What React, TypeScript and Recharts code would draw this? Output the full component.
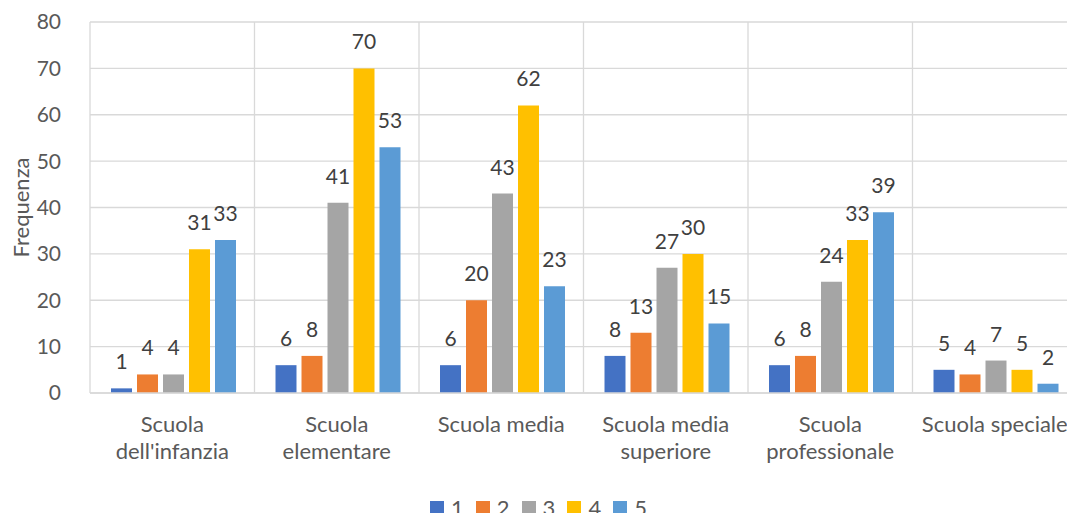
import {
  BarChart,
  Bar,
  XAxis,
  YAxis,
  CartesianGrid,
  Legend,
  LabelList,
} from "recharts";

const categories = [
  "Scuola\ndell'infanzia",
  "Scuola\nelementare",
  "Scuola media",
  "Scuola media\nsuperiore",
  "Scuola\nprofessionale",
  "Scuola speciale",
];

const series1 = [1, 6, 6, 8, 6, 5];
const series2 = [4, 8, 20, 13, 8, 4];
const series3 = [4, 41, 43, 27, 24, 7];
const series4 = [31, 70, 62, 30, 33, 5];
const series5 = [33, 53, 23, 15, 39, 2];

const seriesNames = ["1", "2", "3", "4", "5"];
const seriesColors = ["#4472C4", "#ED7D31", "#A5A5A5", "#FFC000", "#5B9BD5"];
const yTicks = [0, 10, 20, 30, 40, 50, 60, 70, 80];

const data = categories.map((name, i) => ({
  name,
  s1: series1[i],
  s2: series2[i],
  s3: series3[i],
  s4: series4[i],
  s5: series5[i],
}));

const FONT = "Lato, 'Open Sans', sans-serif";
const AXIS_TEXT = "#595959";
const GRID = "#d9d9d9";

function CategoryTick({ x, y, payload }: any) {
  const lines = String(payload.value).split("\n");
  return (
    <text x={x} y={y} textAnchor="middle" fill={AXIS_TEXT} fontSize={22} fontFamily={FONT}>
      {lines.map((line, i) => (
        <tspan key={i} x={x} dy={i === 0 ? 31 : 27}>
          {line}
        </tspan>
      ))}
    </text>
  );
}

// y axis title, centred on the plot height
function AxisTitle({ viewBox }: any) {
  const cy = viewBox.y + viewBox.height / 2;
  return (
    <text
      x={20}
      y={cy}
      transform={`rotate(-90, 20, ${cy})`}
      textAnchor="middle"
      dominantBaseline="central"
      fill={AXIS_TEXT}
      fontSize={22}
      fontFamily={FONT}
    >
      Frequenza
    </text>
  );
}

function SeriesLegend() {
  return (
    <div
      style={{
        display: "flex",
        justifyContent: "center",
        alignItems: "center",
        gap: 12,
        height: 20,
        fontFamily: FONT,
        fontSize: 22,
        color: AXIS_TEXT,
      }}
    >
      {seriesNames.map((n, i) => (
        <span key={n} style={{ display: "flex", alignItems: "center", gap: 7 }}>
          <span style={{ width: 14, height: 13, background: seriesColors[i], display: "inline-block" }} />
          {n}
        </span>
      ))}
    </div>
  );
}

export default function App() {
  const n = categories.length;
  return (
    <div
      style={{
        position: "fixed",
        left: 0,
        top: 0,
        width: 1067,
        height: 513,
        overflow: "hidden",
        background: "#fff",
      }}
    >
      <BarChart
        width={1090}
        height={513}
        data={data}
        barGap={5}
        barCategoryGap={21}
        margin={{ top: 22, right: 13, left: 0, bottom: 0 }}
      >
        <CartesianGrid
          stroke={GRID}
          strokeWidth={1.3}
          verticalCoordinatesGenerator={({ offset }: any) =>
            Array.from({ length: n + 1 }, (_, i) => offset.left + (i * offset.width) / n)
          }
        />
        <XAxis
          dataKey="name"
          interval={0}
          height={100}
          axisLine={{ stroke: GRID, strokeWidth: 1.3 }}
          tickLine={false}
          tick={<CategoryTick />}
        />
        <YAxis
          width={90}
          domain={[0, 80]}
          ticks={yTicks}
          axisLine={false}
          tickLine={false}
          tickMargin={23}
          tick={{ fill: AXIS_TEXT, fontSize: 21, fontFamily: FONT }}
          label={<AxisTitle />}
        />
        <Legend verticalAlign="bottom" content={<SeriesLegend />} wrapperStyle={{ bottom: -4 }} />
        {["s1", "s2", "s3", "s4", "s5"].map((key, i) => (
          <Bar
            key={key}
            dataKey={key}
            name={seriesNames[i]}
            fill={seriesColors[i]}
            isAnimationActive={false}
          >
            <LabelList
              dataKey={key}
              position="top"
              offset={19}
              fill="#404040"
              fontSize={21}
              fontFamily={FONT}
            />
          </Bar>
        ))}
      </BarChart>
    </div>
  );
}
